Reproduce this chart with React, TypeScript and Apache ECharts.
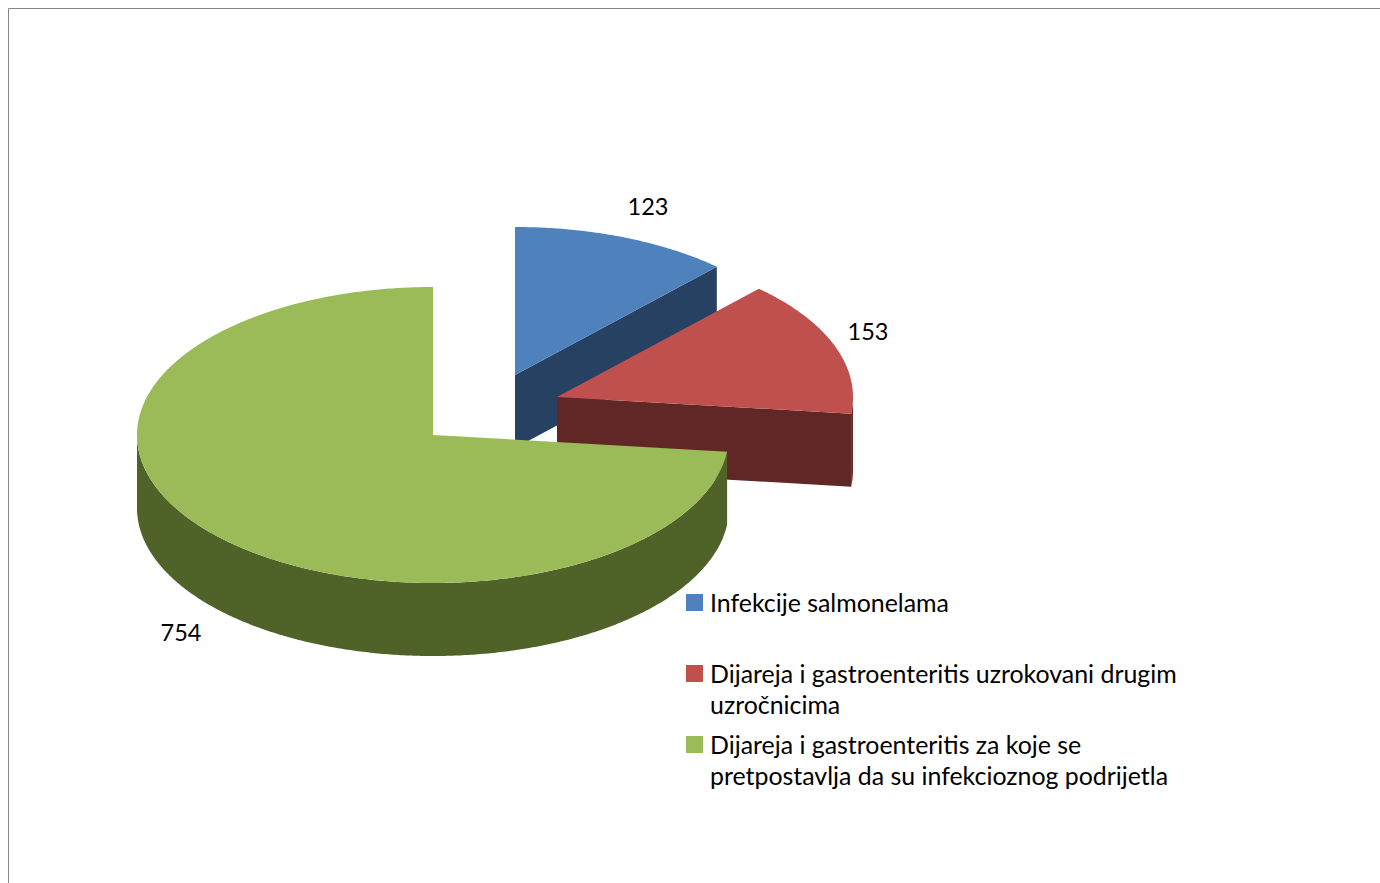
import React, { useEffect, useRef } from "react";
import * as echarts from "echarts";

const categories = [
  "Infekcije salmonelama",
  "Dijareja i gastroenteritis uzrokovani drugim uzročnicima",
  "Dijareja i gastroenteritis za koje se pretpostavlja da su infekcioznog podrijetla",
];
const wrappedLabels = [
  "Infekcije salmonelama",
  "Dijareja i gastroenteritis uzrokovani drugim\nuzročnicima",
  "Dijareja i gastroenteritis za koje se\npretpostavlja da su infekcioznog podrijetla",
];
const values = [123, 153, 754];

const topColors = ["#4F81BD", "#C0504D", "#9BBB59"];
const sideColors = ["#264162", "#612726", "#4F6228"];

const centers = [
  [515, 375],
  [557, 397],
  [433, 435],
];
const labelPositions = [
  [648, 206],
  [868, 331],
  [181, 632],
];
const legendTops = [586, 657, 728];
const RX = 296;
const RY = 148;
const DEPTH = 73;
const FONT = "Lato";
const LABEL_FONT_SIZE = 23.5;
const LEGEND_FONT_SIZE = 24.9;
const LINE_HEIGHT = 31;

const total = values.reduce((a, b) => a + b, 0);

function arcPoints(cx: number, cy: number, a0: number, a1: number) {
  const pts: number[][] = [];
  const n = Math.max(2, Math.ceil((a1 - a0) * 2));
  for (let i = 0; i <= n; i++) {
    const a = ((a0 + ((a1 - a0) * i) / n) * Math.PI) / 180;
    pts.push([cx + RX * Math.sin(a), cy - RY * Math.cos(a)]);
  }
  return pts;
}

function faceAt(cx: number, cy: number, angle: number) {
  const [p] = arcPoints(cx, cy, angle, angle + 1);
  return [
    [cx, cy],
    [p[0], p[1]],
    [p[0], p[1] + DEPTH],
    [cx, cy + DEPTH],
  ];
}

function renderSlice(index: number) {
  return () => {
    const before = values.slice(0, index).reduce((a, b) => a + b, 0);
    const start = (before / total) * 360;
    const end = ((before + values[index]) / total) * 360;
    const [cx, cy] = centers[index];
    const side = { fill: sideColors[index] };
    const children: any[] = [];

    if (Math.sin((start * Math.PI) / 180) < -1e-6) {
      children.push({ type: "polygon", shape: { points: faceAt(cx, cy, start) }, style: side });
    }
    if (Math.sin((end * Math.PI) / 180) > 1e-6) {
      children.push({ type: "polygon", shape: { points: faceAt(cx, cy, end) }, style: side });
    }
    const w0 = Math.max(start, 90);
    const w1 = Math.min(end, 270);
    if (w1 > w0) {
      const upper = arcPoints(cx, cy, w0, w1);
      const lower = upper.map((p) => [p[0], p[1] + DEPTH]).reverse();
      children.push({ type: "polygon", shape: { points: [...upper, ...lower] }, style: side });
    }
    children.push({
      type: "polygon",
      shape: { points: [[cx, cy], ...arcPoints(cx, cy, start, end)] },
      style: { fill: topColors[index] },
    });
    children.push({
      type: "text",
      x: labelPositions[index][0],
      y: labelPositions[index][1],
      style: {
        text: String(values[index]),
        fill: "#000000",
        font: `${LABEL_FONT_SIZE}px ${FONT}`,
        align: "center",
        verticalAlign: "middle",
      },
    });
    return { type: "group", children };
  };
}

export default function App() {
  const ref = useRef<HTMLDivElement>(null);
  useEffect(() => {
    const chart = echarts.init(ref.current!, undefined, { renderer: "svg" });
    chart.setOption({
      animation: false,
      backgroundColor: "#ffffff",
      graphic: [
        {
          type: "polyline",
          shape: {
            points: [
              [8.5, 883],
              [8.5, 8.5],
              [1380, 8.5],
            ],
          },
          style: { stroke: "#868686", lineWidth: 1, fill: "none" },
        },
      ],
      legend: categories.map((name, i) => ({
        data: [name],
        orient: "vertical",
        left: 686,
        top: legendTops[i],
        padding: 0,
        selectedMode: false,
        itemWidth: 19,
        itemHeight: wrappedLabels[i].includes("\n") ? 46 : 19,
        icon: wrappedLabels[i].includes("\n")
          ? "path://M0 0H17V17H0Z M19 46H19Z"
          : "path://M0 0H17V17H0Z M19 -2H19Z",
        formatter: () => wrappedLabels[i],
        textStyle: {
          fontFamily: FONT,
          fontSize: LEGEND_FONT_SIZE,
          lineHeight: LINE_HEIGHT,
          color: "#000000",
        },
      })),
      series: categories.map((name, i) => ({
        type: "custom",
        name,
        coordinateSystem: "none",
        silent: true,
        itemStyle: { color: topColors[i] },
        data: [values[i]],
        renderItem: renderSlice(i),
      })),
    });
    return () => chart.dispose();
  }, []);
  return (
    <div
      ref={ref}
      style={{ position: "fixed", left: 0, top: 0, width: 1380, height: 883 }}
    />
  );
}
